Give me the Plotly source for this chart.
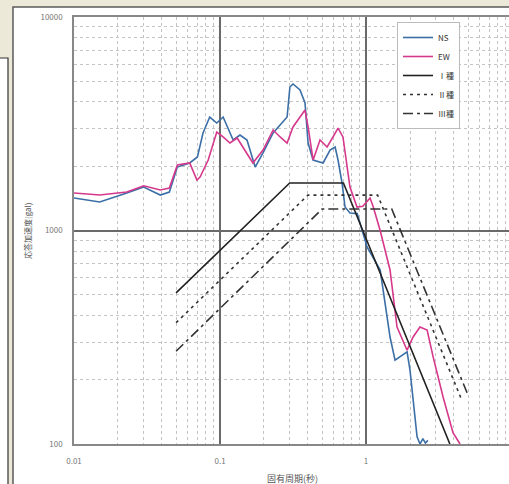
import plotly.graph_objects as go

# ---- data (period T in s, response acceleration in gal) ----
ns_T = [0.01, 0.015, 0.023, 0.030, 0.039, 0.045, 0.051, 0.062, 0.070, 0.0765, 0.085, 0.095,
        0.105, 0.112, 0.123, 0.137, 0.153, 0.174, 0.197, 0.231, 0.258, 0.288, 0.301, 0.316,
        0.353, 0.382, 0.401, 0.434, 0.508, 0.567, 0.614, 0.643, 0.685, 0.718, 0.776, 0.87,
        1.016, 1.25, 1.46, 1.58, 1.91, 2.0, 2.236, 2.343, 2.45, 2.55, 2.65]
ns_S = [1420, 1360, 1498, 1598, 1466, 1514, 1983, 2071, 2210, 2862, 3400, 3188,
        3400, 3054, 2654, 2801, 2654, 1983, 2307, 2862, 3120, 3400, 4699, 4855,
        4550, 3956, 2569, 2139, 2071, 2382, 2461, 2139, 1669, 1288, 1208, 1200,
        837, 653, 317, 247, 270, 222, 108, 100, 106, 101, 104]

ew_T = [0.01, 0.015, 0.023, 0.030, 0.039, 0.045, 0.051, 0.062, 0.0695, 0.073, 0.083, 0.095,
        0.105, 0.117, 0.131, 0.144, 0.168, 0.197, 0.231, 0.258, 0.288, 0.316, 0.353, 0.382,
        0.401, 0.434, 0.484, 0.541, 0.594, 0.643, 0.695, 0.776, 0.867, 0.95, 1.065, 1.117,
        1.247, 1.46, 1.63, 1.91, 2.10, 2.34, 2.62, 2.88, 3.37, 3.94, 4.40]
ew_S = [1498, 1466, 1514, 1620, 1547, 1581, 2026, 2071, 1723, 1780, 2139, 2893,
        2742, 2569, 2712, 2461, 2071, 2382, 2956, 2742, 2569, 3054, 3400, 3667,
        3054, 2139, 2654, 2461, 2742, 3020, 2742, 1598, 1288, 1300, 1420, 1300,
        1005, 653, 353, 275, 317, 353, 342, 256, 166, 113, 100]

g1_T = [0.05, 0.3, 0.7, 3.75]
g1_S = [510, 1670, 1670, 100]
g2_T = [0.05, 0.4, 1.2, 4.5]
g2_S = [370, 1465, 1465, 162]
g3_T = [0.05, 0.5, 1.5, 5.0]
g3_S = [272, 1260, 1260, 169]

x_tickvals = [0.01, 0.1, 1, 10]
x_ticktext = ["0.01", "0.1", "1", "10"]
y_tickvals = [100, 1000, 10000]
y_ticktext = ["100", "1000", "10000"]
x_minor = [m * d for d in (0.01, 0.1, 1) for m in range(2, 10)]
y_minor = [m * d for d in (100, 1000) for m in range(2, 10)]
x_title = "固有周期(秒)"
y_title = "応答加速度(gal)"

FONT = "Noto Sans CJK JP, Noto Sans, sans-serif"

fig = go.Figure()
fig.add_trace(go.Scatter(x=ns_T, y=ns_S, mode="lines", name="NS",
                         line=dict(color="#3b6fa6", width=1.6)))
fig.add_trace(go.Scatter(x=ew_T, y=ew_S, mode="lines", name="EW",
                         line=dict(color="#d6398c", width=1.6)))
fig.add_trace(go.Scatter(x=g1_T, y=g1_S, mode="lines", name="Ⅰ種",
                         line=dict(color="#222222", width=1.6)))
fig.add_trace(go.Scatter(x=g2_T, y=g2_S, mode="lines", name="Ⅱ種",
                         line=dict(color="#333333", width=1.6, dash="3px,4px")))
fig.add_trace(go.Scatter(x=g3_T, y=g3_S, mode="lines", name="Ⅲ種",
                         line=dict(color="#333333", width=1.6, dash="10px,4px,3px,4px")))

W, H = 509, 484
L, T, R, B = 74, 17, 0, 40
pw, ph = W - L - R, H - T - B


def px(x):
    return (x - L) / pw


def py(y):
    return (H - B - y) / ph


fig.update_layout(
    width=W, height=H,
    margin=dict(l=L, r=R, t=T, b=B),
    paper_bgcolor="#ece9d8",
    plot_bgcolor="rgba(0,0,0,0)",
    font=dict(family=FONT, size=8, color="#555"),
    showlegend=True,
    legend=dict(x=px(397), y=py(22), xanchor="left", yanchor="top",
                bgcolor="white", bordercolor="#bbbbbb", borderwidth=1,
                font=dict(size=8, color="#333"), itemwidth=30,
                tracegroupgap=0),
    shapes=[
        dict(type="rect", xref="paper", yref="paper", layer="below",
             x0=px(13), x1=px(530), y0=py(520), y1=py(7),
             fillcolor="white", line=dict(color="#5a5a5a", width=1.5)),
        dict(type="rect", xref="paper", yref="paper", layer="below",
             x0=px(-20), x1=px(8), y0=py(520), y1=py(58),
             fillcolor="white", line=dict(color="#333333", width=1.2)),
    ],
    annotations=[
        dict(text=x_title, xref="paper", yref="paper", x=px(292), y=py(478),
             xanchor="center", yanchor="middle", showarrow=False,
             font=dict(size=9, color="#555")),
        dict(text=y_title, xref="paper", yref="paper", x=px(27), y=py(231),
             xanchor="center", yanchor="middle", showarrow=False, textangle=-90,
             font=dict(size=8, color="#555")),
    ],
)

fig.update_xaxes(
    type="log", range=[-2, 0.979],
    tickvals=x_tickvals, ticktext=x_ticktext,
    ticks="outside", ticklen=9, tickcolor="rgba(0,0,0,0)",
    tickfont=dict(size=8, color="#777"),
    showgrid=True, gridcolor="#6a6a6a", gridwidth=1.6,
    minor=dict(tickvals=x_minor, showgrid=True, gridcolor="#c4c4c4",
               griddash="dot", gridwidth=1),
    showline=True, linecolor="#888", linewidth=1.5, mirror=True,
    zeroline=False,
)
fig.update_yaxes(
    type="log", range=[2, 4],
    tickvals=y_tickvals, ticktext=y_ticktext,
    ticks="outside", ticklen=8, tickcolor="rgba(0,0,0,0)",
    tickfont=dict(size=8, color="#777"),
    showgrid=True, gridcolor="#6a6a6a", gridwidth=1.6,
    minor=dict(tickvals=y_minor, showgrid=True, gridcolor="#c4c4c4",
               griddash="dot", gridwidth=1),
    showline=True, linecolor="#888", linewidth=1.5,
    zeroline=False,
)

fig.write_html("out.html", config={"displayModeBar": False},
               post_script="document.body.style.margin='0';document.body.style.overflow='hidden';")
